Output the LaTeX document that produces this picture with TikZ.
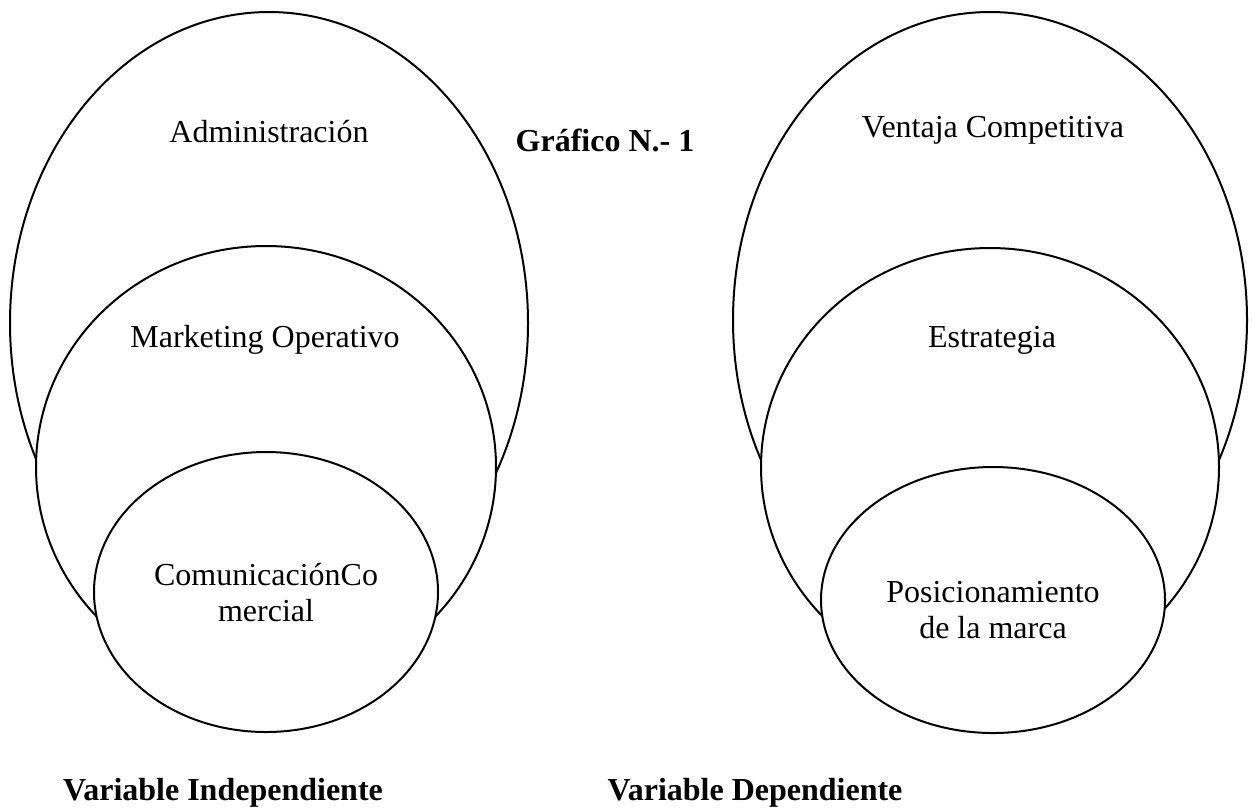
\documentclass[tikz,border=0pt]{standalone}
\usepackage{fontspec}
\setmainfont{Liberation Serif}
\usepackage{tikz}
\usetikzlibrary{positioning}

\begin{document}
\begin{tikzpicture}[x=0.375pt, y=-0.375pt, font=\fontsize{12}{13.5}\selectfont,
  ring/.style={draw, fill=white, line width=0.75pt},
  heading/.style={font=\fontsize{12}{13.5}\selectfont\bfseries}]
  \useasboundingbox (0,0) rectangle (1259,810);

  % Variable independiente: three nested ellipses
  \draw[ring] (269,323) ellipse [x radius=259, y radius=311];
  \draw[ring] (266,467) ellipse [x radius=230, y radius=221];
  \draw[ring] (266,592) ellipse [x radius=172, y radius=140];

  % Variable dependiente
  \draw[ring] (990,320) ellipse [x radius=257, y radius=308];
  \draw[ring] (990,467) ellipse [x radius=229, y radius=219];
  \draw[ring] (993,600) ellipse [x radius=172, y radius=133];

  \node (admin) at (269,132) {Administración};
  \node (mkt) at (265,340) {Marketing Operativo};
  \node[align=center] (com) at (266,593) {ComunicaciónCo\\mercial};

  \node (vent) at (993,130) {Ventaja Competitiva};
  \node (estr) at (992,340) {Estrategia};
  \node[align=center] (pos) at (993,610) {Posicionamiento\\de la marca};

  \node[heading] (graf) at (605,140) {Gráfico N.- 1};
  \node[heading] (vi) at (223,793) {Variable Independiente};
  \node[heading] (vd) at (755,793) {Variable Dependiente};
\end{tikzpicture}
\end{document}
